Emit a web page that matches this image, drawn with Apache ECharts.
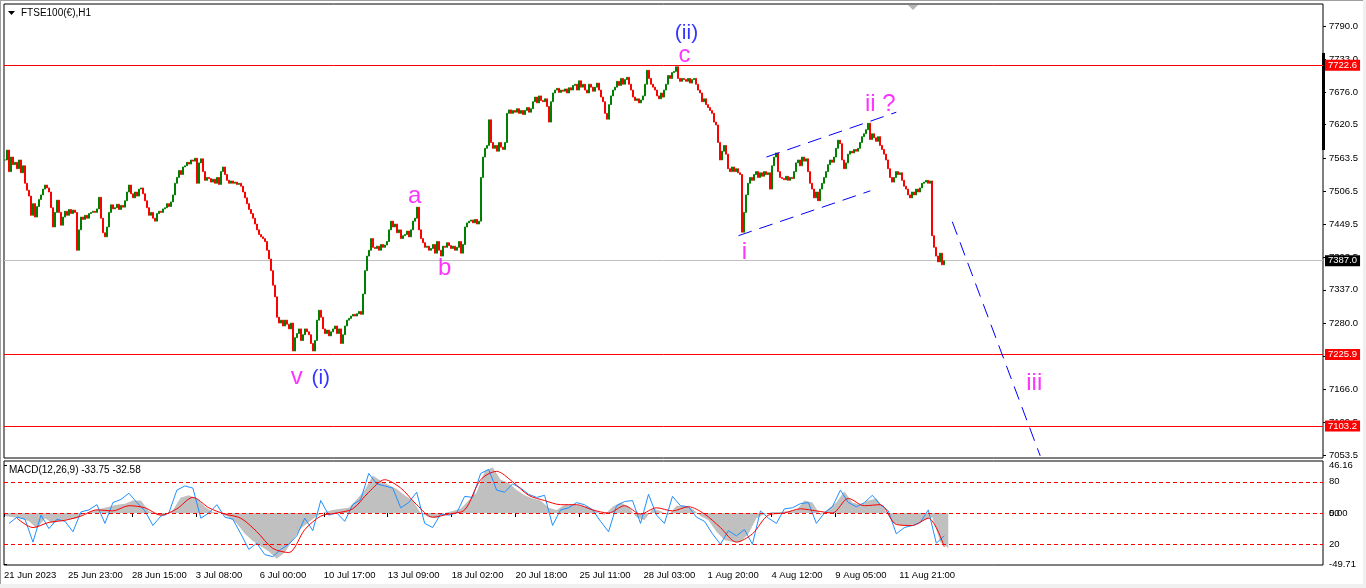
<!DOCTYPE html>
<html><head><meta charset="utf-8">
<script src="https://cdn.jsdelivr.net/npm/echarts@6/dist/echarts.min.js"></script>
<style>html,body{margin:0;padding:0;background:#fff;}#c{width:1366px;height:588px;}</style>
</head><body><div id="c"></div>
<script>
// ---------------- data ----------------
const SLOTS = 660;               // 2-hour slots across the plot width
const xLabelEvery = 32;          // one date label every 32 slots
const xLabels = ['21 Jun 2023','25 Jun 23:00','28 Jun 15:00','3 Jul 08:00','6 Jul 00:00','10 Jul 17:00','13 Jul 09:00','18 Jul 02:00','20 Jul 18:00','25 Jul 11:00','28 Jul 03:00','1 Aug 20:00','4 Aug 12:00','9 Aug 05:00','11 Aug 21:00'];
const priceTicks = [7790.0,7733.0,7676.0,7620.5,7563.5,7506.5,7449.5,7393.5,7337.0,7280.0,7223.0,7166.0,7109.5,7053.5];
const closes = [
7560,7577,7540,7565,7552, 7556,7545,7560,7538,7550, 7520,7508,7498,7465,7485, 7462,7480,7492,7500,7510,
7517,7512,7505,7478,7445, 7470,7491,7470,7448,7462, 7472,7465,7475,7468,7474, 7470,7405,7440,7462,7458,
7465,7460,7468,7470,7472, 7470,7476,7496,7460,7435, 7428,7445,7470,7483,7476, 7478,7484,7475,7482,7479,
7490,7505,7517,7502,7495, 7505,7498,7510,7512,7502, 7490,7478,7465,7470,7460, 7455,7468,7472,7470,7476,
7478,7485,7480,7488,7500, 7520,7530,7542,7535,7548, 7550,7556,7553,7560,7558, 7563,7520,7555,7562,7540,
7525,7530,7528,7522,7527, 7520,7530,7518,7540,7548, 7535,7525,7520,7524,7520, 7522,7518,7520,7515,7505,
7495,7485,7475,7468,7460, 7450,7440,7432,7428,7425, 7420,7405,7390,7370,7345, 7325,7290,7280,7285,7275,
7285,7278,7270,7280,7232, 7255,7262,7270,7250,7260, 7270,7265,7260,7245,7232, 7250,7285,7302,7290,7270,
7262,7268,7258,7265,7270, 7275,7262,7270,7245,7260, 7275,7285,7288,7292,7295, 7292,7296,7300,7295,7330,
7370,7395,7405,7425,7410, 7408,7412,7405,7415,7410, 7414,7420,7440,7455,7445, 7450,7435,7440,7425,7430,
7432,7438,7428,7440,7455, 7460,7479,7440,7425,7418, 7410,7412,7405,7408,7415, 7400,7420,7405,7395,7412,
7410,7418,7413,7408,7412, 7405,7410,7420,7400,7415, 7445,7452,7455,7457,7452, 7458,7450,7455,7530,7565,
7580,7585,7629,7590,7580, 7585,7575,7590,7582,7578, 7590,7640,7646,7640,7645, 7642,7648,7640,7645,7638,
7645,7650,7642,7648,7660, 7668,7658,7670,7662,7660, 7665,7652,7625,7660,7675, 7680,7683,7676,7680,7678,
7682,7675,7684,7680,7688, 7690,7680,7696,7685,7690, 7680,7675,7690,7685,7678, 7685,7692,7680,7668,7660,
7640,7630,7655,7670,7680, 7685,7695,7688,7700,7690, 7698,7702,7690,7680,7668, 7662,7665,7658,7663,7670,
7690,7714,7700,7690,7685, 7680,7670,7665,7675,7668, 7680,7690,7705,7700,7710, 7712,7720,7700,7695,7700,
7698,7695,7700,7692,7698, 7700,7690,7680,7675,7660, 7665,7655,7650,7645,7640, 7625,7620,7590,7560,7575,
7585,7570,7545,7540,7548, 7540,7545,7538,7535,7436, 7470,7500,7520,7530,7525, 7535,7540,7530,7538,7532,
7540,7535,7538,7510,7550, 7565,7572,7540,7530,7528, 7526,7532,7525,7530,7528, 7540,7555,7560,7550,7565,
7558,7562,7540,7520,7510, 7495,7505,7490,7510,7520, 7530,7540,7552,7560,7556, 7565,7580,7594,7588,7560,
7545,7555,7570,7575,7572, 7578,7575,7580,7590,7600, 7605,7612,7623,7595,7605, 7598,7592,7600,7585,7578,
7570,7560,7545,7530,7522, 7530,7540,7535,7538,7525, 7515,7510,7500,7495,7505, 7500,7510,7505,7512,7520,
7522,7525,7520,7524,7430, 7410,7395,7385,7400,7380, 7387
];
const levelLines = [7722.6, 7225.9, 7103.2];
const lastPrice = 7387.0;

// MACD window (histogram every 4 slots from slot 0, signal every 8 slots from slot 6)
const macdHistStep = 4, macdHistStart = 0;
const macdHist = [
-3,-4,-5,-8,-15,-5,-10,-7,-6,-5, 0,2,4,6,8,9,12,12,2,-2, -3,3,15,17,14,6,1,0,-4,-10,
-20,-27,-32,-37,-44,-38,-26,-15,-9,-3, 1,3,4,5,13,22,36,31,27,23, 17,12,0,-4,-5,0,2,4,12,20,
40,44,32,29,22,17,14,12,5,3, 8,8,7,6,2,-2,6,10,6,-4, -7,4,2,-2,7,7,4,-3,-7,-18,
-26,-28,-28,-20,-5,-1,1,1,2,3, 12,10,-2,4,10,21,10,8,12,14, 4,-9,-12,-12,-10,-7,-4,-28,-33.75
];
const macdSignalStep = 8, macdSignalStart = 6;
const macdSignal = [
-5,-14,-9,-7,-3,3,2,7,5,-2, 4,15,5,-1,-5,-18,-34,-38,-16,-3, 0,4,20,32,24,8,-4,-1,3,32,
40,30,17,12,8,8,3,0,7,-1, 5,2,6,-1,-14,-28,-20,-2,0,4, 2,0,14,7,8,-11,-12,-5,-32.58
];
// blue oscillator (0..100) every 4 slots from slot 2
const oscStep = 4, oscStart = 2;
const oscBlue = [
40,46,44,22,48,35,44,42,32,51, 53,58,40,60,63,69,60,52,38,47, 50,72,76,74,45,50,58,46,44,30,
15,21,10,8,15,20,28,45,33,62, 48,50,42,58,63,88,78,76,74,55, 60,70,40,36,49,48,50,66,65,88,
92,72,70,78,74,68,65,67,38,53, 55,60,58,53,42,32,57,61,62,40, 68,48,40,66,57,56,46,42,30,20,
33,28,34,20,52,45,40,54,55,59, 60,40,50,56,72,60,56,60,67,58, 52,30,36,38,41,53,21,28
];
const oscLevels = [80, 50, 20];
const macdAxisValues = [46.16, 0, -49.71];

// wave annotations (slot, price)
const waveText  = ['(ii)','c','a','b','v','(i)','i','ii ?','iii'];
const waveSlot  = [341, 340, 205, 220, 146, 158, 370, 438, 515];
const wavePrice = [7778, 7740, 7498, 7374, 7187, 7185, 7402, 7655, 7176];
const waveDegree = [true,false,false,false,false,true,false,false,false];
// dashed channel / projection lines (slot, price)
const lineFrom = [[381, 7565], [367, 7430], [474, 7454]];
const lineTo   = [[446, 7642], [433, 7507], [518, 7052]];

// ---------------- chart ----------------
const FONT = '"Liberation Sans", Arial, sans-serif';
const slotNames = Array.from({length: SLOTS}, (_, i) => String(i));
const candles = closes.map((c, i) => { const o = i ? closes[i-1] : c; return [o, c, Math.min(o,c), Math.max(o,c)]; });
const histData = macdHist.map((v, k) => [macdHistStart + k*macdHistStep + 0.5, v]);
const sigData = macdSignal.map((v, k) => [macdSignalStart + k*macdSignalStep + 0.5, v]);
const oscData = oscBlue.map((v, k) => [oscStart + k*oscStep + 0.5, v]);
const xTickSlots = xLabels.map((_, i) => i*xLabelEvery);

const waveData = waveText.map((t, i) => ({
  value: [waveSlot[i], wavePrice[i]],
  label: { formatter: t, color: waveDegree[i] ? '#0000ff' : '#ff00ff', fontSize: waveDegree[i] ? 21 : 24 }
}));

const priceMarkLabel = (bg) => ({
  show: true, position: 'end', distance: 2, color: '#fff', backgroundColor: bg,
  fontSize: 9.5, fontFamily: FONT, lineHeight: 11, padding: [0, 3, 0, 3],
  formatter: p => Number(p.value).toFixed(1)
});

const option = {
  animation: false,
  backgroundColor: '#fff',
  title: [
    { text: 'FTSE100(€),H1', left: 21, top: 8, padding: 0,
      textStyle: { fontSize: 10, fontWeight: 'normal', fontFamily: FONT, color: '#000' } },
    { text: 'MACD(12,26,9) ' + macdHist[macdHist.length-1].toFixed(2) + ' ' + macdSignal[macdSignal.length-1].toFixed(2),
      left: 9, top: 465, padding: 0,
      textStyle: { fontSize: 10, fontWeight: 'normal', fontFamily: FONT, color: '#000' } }
  ],
  grid: [
    { left: 4, top: 4, width: 1319, height: 454, show: true, borderColor: '#000', borderWidth: 1, backgroundColor: 'transparent' },
    { left: 4, top: 461, width: 1319, height: 104, show: true, borderColor: '#000', borderWidth: 1, backgroundColor: 'transparent' }
  ],
  xAxis: [
    { type: 'category', gridIndex: 0, data: slotNames, boundaryGap: true, show: false },
    { type: 'value', gridIndex: 1, min: 0, max: SLOTS, splitLine: { show: false },
      axisLine: { show: false },
      axisTick: { show: true, customValues: xTickSlots, length: 4, lineStyle: { color: '#000' } },
      axisLabel: { show: true, customValues: xTickSlots, align: 'left', margin: 5,
        formatter: v => xLabels[Math.round(v / xLabelEvery)] || '',
        fontSize: 9.5, fontFamily: FONT, color: '#000' } }
  ],
  yAxis: [
    { type: 'value', gridIndex: 0, position: 'right', min: 7048.34, max: 7827.77, scale: true,
      splitLine: { show: false }, axisLine: { show: false },
      axisTick: { show: true, customValues: priceTicks, length: 3, lineStyle: { color: '#000' } },
      axisLabel: { show: true, customValues: priceTicks, margin: 6, formatter: v => v.toFixed(1),
        fontSize: 9.5, fontFamily: FONT, color: '#000' } },
    { type: 'value', gridIndex: 1, position: 'right', min: -50, max: 50,
      splitLine: { show: false }, axisLine: { show: false },
      axisTick: { show: true, customValues: macdAxisValues, length: 3, lineStyle: { color: '#000' } },
      axisLabel: { show: true, customValues: macdAxisValues, margin: 6, formatter: v => v.toFixed(2),
        fontSize: 9.5, fontFamily: FONT, color: '#000' } },
    { type: 'value', gridIndex: 1, position: 'right', min: 0, max: 100,
      splitLine: { show: false }, axisLine: { show: false },
      axisTick: { show: false },
      axisLabel: { show: true, customValues: oscLevels, margin: 6, formatter: v => String(v),
        fontSize: 9.5, fontFamily: FONT, color: '#000' } }
  ],
  series: [
    { type: 'candlestick', name: 'FTSE100', xAxisIndex: 0, yAxisIndex: 0, data: candles,
      barWidth: 1.5, z: 3,
      itemStyle: { color: '#008000', color0: '#ff0000', borderColor: '#008000', borderColor0: '#ff0000', borderWidth: 1 },
      markLine: { silent: true, symbol: ['none','none'], animation: false, z: 2,
        data: levelLines.map(v => ({ yAxis: v, lineStyle: { color: '#ff0000', width: 1, type: 'solid' }, label: priceMarkLabel('#ff0000') }))
          .concat([{ yAxis: lastPrice, lineStyle: { color: '#c0c0c0', width: 1, type: 'solid' }, label: priceMarkLabel('#000000') }]) } },
    { type: 'scatter', name: 'waves', xAxisIndex: 0, yAxisIndex: 0, data: waveData, symbolSize: 0, z: 5,
      label: { show: true, position: 'inside', align: 'center', verticalAlign: 'middle', fontFamily: FONT },
      markLine: { silent: true, symbol: ['none','none'], animation: false,
        lineStyle: { color: '#0000ff', width: 1, type: [14, 8] }, label: { show: false },
        data: lineFrom.map((a, i) => [{ coord: a }, { coord: lineTo[i] }]) } },
    { type: 'line', name: 'MACD', xAxisIndex: 1, yAxisIndex: 1, data: histData, symbol: 'none',
      lineStyle: { color: '#c0c0c0', width: 1, opacity: 0 }, itemStyle: { color: '#c0c0c0' },
      areaStyle: { color: '#c0c0c0', opacity: 1 }, z: 1 },
    { type: 'line', name: 'Osc', xAxisIndex: 1, yAxisIndex: 2, data: oscData, symbol: 'none',
      lineStyle: { color: '#1e90ff', width: 1 }, itemStyle: { color: '#1e90ff' }, z: 3,
      markLine: { silent: true, symbol: ['none','none'], animation: false, label: { show: false },
        lineStyle: { color: '#ff0000', width: 1, type: [4, 3] },
        data: oscLevels.map(v => ({ yAxis: v })) } },
    { type: 'line', name: 'Signal', xAxisIndex: 1, yAxisIndex: 1, data: sigData, symbol: 'none', smooth: 0.3,
      lineStyle: { color: '#ff0000', width: 1 }, itemStyle: { color: '#ff0000' }, z: 4 }
  ],
  graphic: [
    { type: 'rect', silent: true, shape: { x: 0, y: 0, width: 1366, height: 1 }, style: { fill: '#a0a0a0' } },
    { type: 'rect', silent: true, shape: { x: 0, y: 0, width: 1, height: 588 }, style: { fill: '#a0a0a0' } },
    { type: 'rect', silent: true, shape: { x: 0, y: 584, width: 1366, height: 4 }, style: { fill: '#f0f0f0' } },
    { type: 'rect', silent: true, shape: { x: 1363, y: 0, width: 3, height: 588 }, style: { fill: '#f0f0f0' } },
    { type: 'polygon', silent: true, shape: { points: [[8, 11], [15, 11], [11.5, 15]] }, style: { fill: '#000' } },
    { type: 'polygon', silent: true, shape: { points: [[908, 5], [918, 5], [913, 10]] }, style: { fill: '#b4b4b4' } },
    { type: 'rect', silent: true, shape: { x: 1322, y: 53, width: 3, height: 97 }, style: { fill: '#000' } }
  ]
};
const chart = echarts.init(document.getElementById('c'));
chart.setOption(option);
</script>
</body></html>
